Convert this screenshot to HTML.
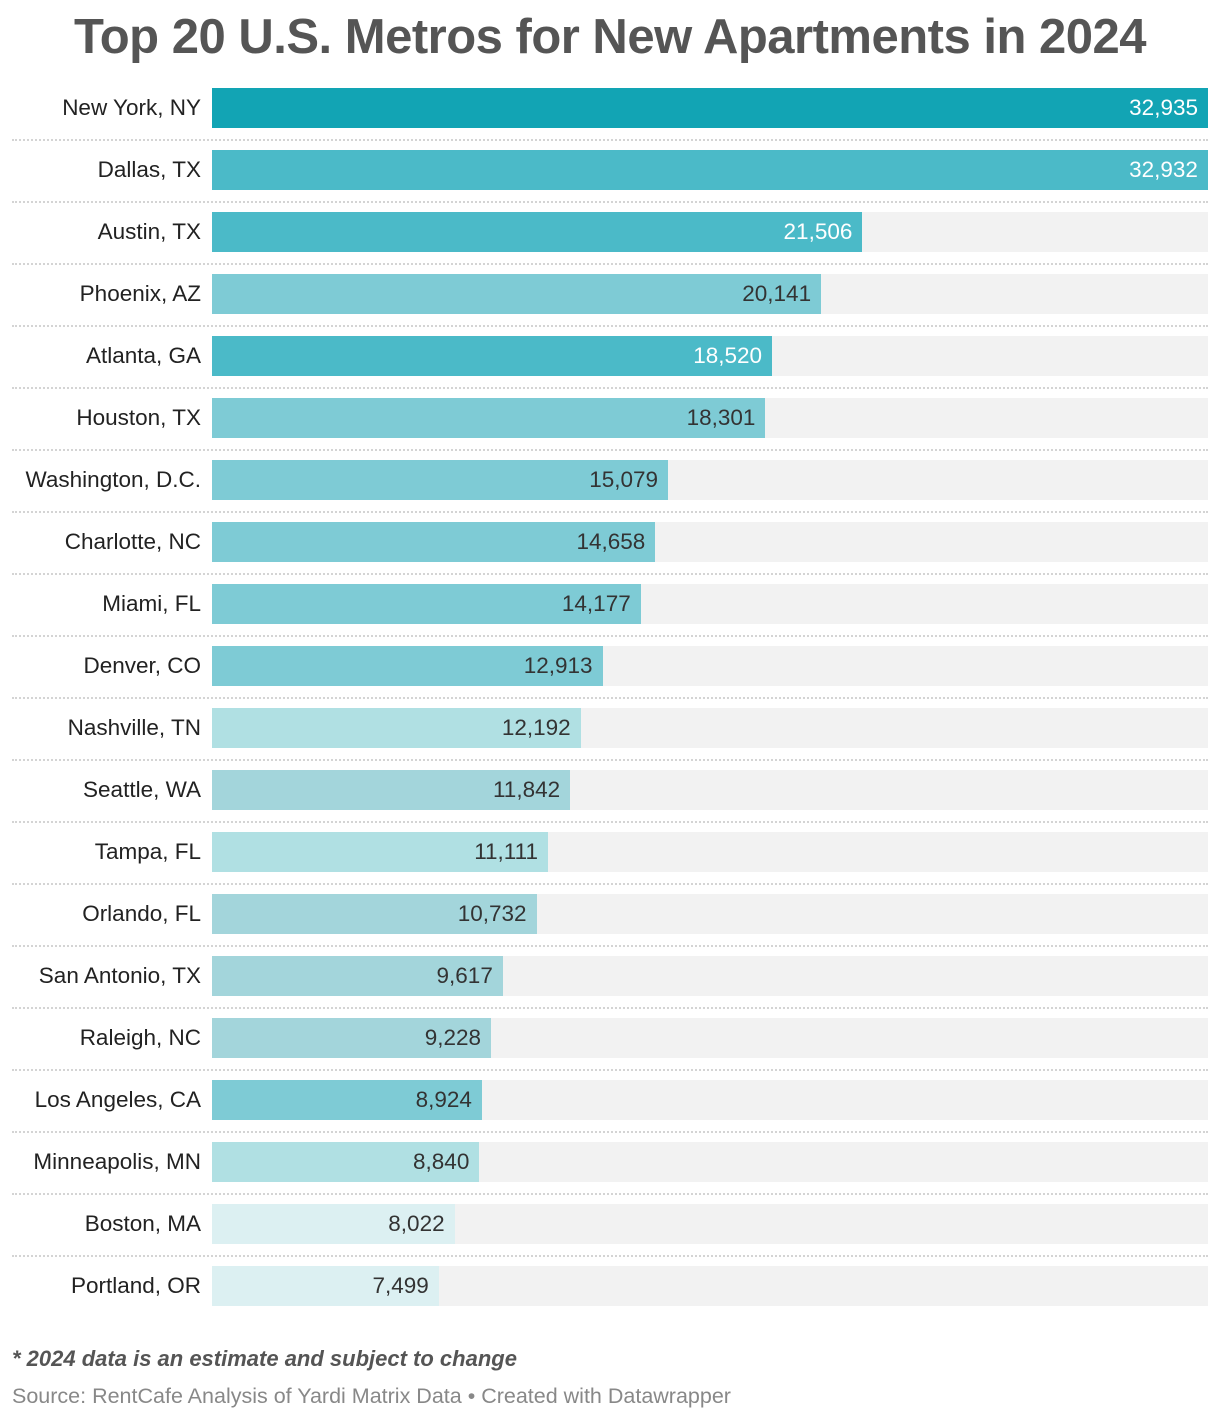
<!DOCTYPE html>
<html><head><meta charset="utf-8"><style>
body{margin:0;width:1220px;height:1420px;background:#fff;font-family:"Liberation Sans",sans-serif;position:relative;overflow:hidden}
#title{position:absolute;left:0;width:1220px;top:9px;text-align:center;font-size:49px;font-weight:bold;color:#555;letter-spacing:-0.5px}
.lbl{position:absolute;right:1019px;font-size:22.5px;color:#222;line-height:40px;white-space:nowrap}
.bg{position:absolute;left:212px;width:996px;height:40px;background:#f2f2f2}
.bar{position:absolute;left:212px;height:40px}
.val{position:absolute;font-size:22.5px;line-height:40px;text-align:right;white-space:nowrap}
.sep{position:absolute;left:12px;width:1196px;border-top:2px dotted #d4d4d4}
#note{position:absolute;left:12px;top:1346px;font-size:22px;font-weight:bold;font-style:italic;color:#555}
#src{position:absolute;left:12px;top:1384px;font-size:21.5px;color:#888}
</style></head><body>
<div id="title">Top 20 U.S. Metros for New Apartments in 2024</div>
<div id="chart"></div>
<div id="note">* 2024 data is an estimate and subject to change</div>
<div id="src">Source: RentCafe Analysis of Yardi Matrix Data • Created with Datawrapper</div>
<script>
const categories=["New York, NY","Dallas, TX","Austin, TX","Phoenix, AZ","Atlanta, GA","Houston, TX","Washington, D.C.","Charlotte, NC","Miami, FL","Denver, CO","Nashville, TN","Seattle, WA","Tampa, FL","Orlando, FL","San Antonio, TX","Raleigh, NC","Los Angeles, CA","Minneapolis, MN","Boston, MA","Portland, OR"];
const values=[32935,32932,21506,20141,18520,18301,15079,14658,14177,12913,12192,11842,11111,10732,9617,9228,8924,8840,8022,7499];
const colorGroups=[0,1,1,2,1,2,2,2,2,2,4,3,4,3,3,3,2,4,5,5];
const palette=["#12a4b4","#4bbac8","#7ecbd5","#a3d5db","#b0e0e3","#dcf0f2"];
const maxV=32935, x0=212, W=996, top0=88, pitch=62;
const xs=v=>v/maxV*W;
const ch=document.getElementById('chart');
categories.forEach((c,i)=>{
  const y=top0+i*pitch;
  if(i>0){const s=document.createElement('div');s.className='sep';s.style.top=(y-11)+'px';
  
  ch.appendChild(s);}
  const l=document.createElement('div');l.className='lbl';l.style.top=y+'px';l.textContent=c;
  
  ch.appendChild(l);
  const bg=document.createElement('div');bg.className='bg';bg.style.top=y+'px';
  
  ch.appendChild(bg);
  const w=xs(values[i]);
  const b=document.createElement('div');b.className='bar';b.style.top=y+'px';b.style.width=w+'px';b.style.background=palette[colorGroups[i]];
  
  ch.appendChild(b);
  const t=document.createElement('div');t.className='val';t.style.top=y+'px';t.style.right=(1220-(x0+w)+10)+'px';
  t.style.color=colorGroups[i]<=1?'#fff':'#333';t.textContent=values[i].toLocaleString('en-US');
  
  ch.appendChild(t);
});
</script>
</body></html>
